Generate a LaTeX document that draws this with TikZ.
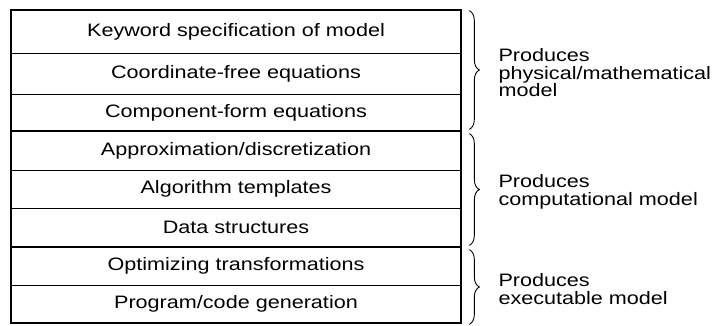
\documentclass[tikz,border=0pt]{standalone}
\usepackage{fontspec}
\setmainfont{Liberation Sans}[FakeStretch=1.2]
\usetikzlibrary{decorations.pathreplacing}

\begin{document}
\begin{tikzpicture}[x=1pt, y=-1pt]
        \useasboundingbox (0,0) rectangle (713,326);
        \tikzset{every node/.style={font=\fontsize{18}{17.5}\selectfont}}
        \tikzset{layer/.style={draw, line width=0.7pt, rectangle, minimum width=450pt, inner sep=0pt}}
        % physical/mathematical model
        \node[layer, minimum height=43pt] (kw) at (236, 31.5) {Keyword specification of model};
        \node[layer, minimum height=41pt] (cf) at (236, 73.5) {Coordinate-free equations};
        \node[layer, minimum height=37pt] (cp) at (236, 112.5) {Component-form equations};
        % computational model
        \node[layer, minimum height=39pt] (ad) at (236, 150.5) {Approximation/discretization};
        \node[layer, minimum height=38pt] (at) at (236, 189) {Algorithm templates};
        \node[layer, minimum height=39pt] (ds) at (236, 227.5) {Data structures};
        % executable model
        \node[layer, minimum height=38pt] (ot) at (236, 266) {Optimizing transformations};
        \node[layer, minimum height=38pt] (pg) at (236, 304) {Program/code generation};
        % thick frames
        \tikzset{group/.style={line width=2pt}}
        \draw[group] (kw.north west) rectangle (cp.south east);
        \draw[group] (ad.north west) rectangle (ds.south east);
        \draw[group] (ot.north west) rectangle (pg.south east);
        % braces
        \tikzset{curly/.style={decorate, decoration={brace, amplitude=10pt}, line width=0.9pt}}
        \draw[curly] ([xshift=8pt, yshift=-1pt]kw.north east) -- ([xshift=8pt, yshift=2pt]cp.south east) node[midway] (b1) {};
        \draw[curly] ([xshift=8pt, yshift=-3pt]ad.north east) -- ([xshift=8pt, yshift=2pt]ds.south east) node[midway] (b2) {};
        \draw[curly] ([xshift=8pt, yshift=-3pt]ot.north east) -- ([xshift=8pt, yshift=-1pt]pg.south east) node[midway] (b3) {};
        \node[anchor=west, align=left] (p1) at (495, 73) {Produces\\physical/mathematical\\model};
        \node[anchor=west, align=left] (p2) at (495, 192) {Produces\\computational model};
        \node[anchor=west, align=left] (p3) at (495, 289) {Produces\\executable model};
      \end{tikzpicture}
\end{document}
